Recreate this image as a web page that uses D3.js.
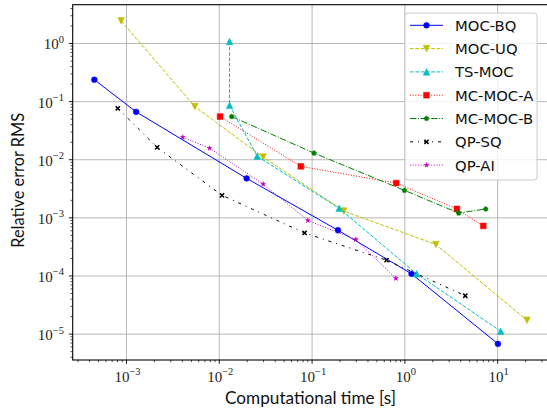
<!DOCTYPE html>
<html>
<head>
<meta charset="utf-8">
<script src="https://cdn.jsdelivr.net/npm/d3@7"></script>
<style>
  html, body { margin: 0; padding: 0; background: #fff; }
  svg { display: block; }
</style>
</head>
<body>
<svg id="chart" width="547" height="415"></svg>
<script>
// ---------------- data ----------------
const seriesNames = ["MOC-BQ", "MOC-UQ", "TS-MOC", "MC-MOC-A", "MC-MOC-B", "QP-SQ", "QP-AI"];

const mocBQ_time  = [4.5e-4, 1.27e-3, 0.0197, 0.19, 1.18, 10.07];
const mocBQ_err   = [0.238, 0.0666, 4.78e-3, 6.12e-4, 1.09e-4, 6.8e-6];

const mocUQ_time  = [8.75e-4, 5.45e-3, 0.0297, 0.22, 2.16, 20.7];
const mocUQ_err   = [2.45, 0.082, 0.0111, 1.31e-3, 3.48e-4, 1.73e-5];

const tsMOC_time  = [0.0129, 0.0129, 0.0256, 0.196, 1.34, 10.8];
const tsMOC_err   = [1.08, 0.0864, 0.0115, 1.46e-3, 1.09e-4, 1.12e-5];

const mcMOCA_time = [0.0102, 0.0757, 0.807, 3.64, 7.0];
const mcMOCA_err  = [0.0553, 7.67e-3, 3.97e-3, 1.42e-3, 7.26e-4];

const mcMOCB_time = [0.0136, 0.105, 0.99, 3.8, 7.43];
const mcMOCB_err  = [0.0553, 0.013, 2.97e-3, 1.21e-3, 1.42e-3];

const qpSQ_time   = [8.05e-4, 2.14e-3, 0.0107, 0.083, 0.635, 4.48];
const qpSQ_err    = [0.0767, 0.0163, 2.44e-3, 5.5e-4, 1.87e-4, 4.57e-5];

const qpAI_time   = [4.04e-3, 7.85e-3, 0.0297, 0.0902, 0.296, 0.80];
const qpAI_err    = [0.0244, 0.0158, 3.81e-3, 8.99e-4, 4.25e-4, 9.1e-5];

const xTickExponents = [-3, -2, -1, 0, 1];
const yTickExponents = [-5, -4, -3, -2, -1, 0];

const xLabel = "Computational time [s]";
const yLabel = "Relative error RMS";

// ---------------- styles ----------------
const times = [mocBQ_time, mocUQ_time, tsMOC_time, mcMOCA_time, mcMOCB_time, qpSQ_time, qpAI_time];
const errs  = [mocBQ_err, mocUQ_err, tsMOC_err, mcMOCA_err, mcMOCB_err, qpSQ_err, qpAI_err];
const styles = [
  { color: "#0000ff", dash: null,        marker: "circle" },
  { color: "#bfbf00", dash: "3.7,1.6",   marker: "tridown" },
  { color: "#00bfbf", dash: "3.7,1.6",   marker: "triup" },
  { color: "#ff0000", dash: "1,1.65",    marker: "square" },
  { color: "#008000", dash: "6.4,1.6,1,1.6", marker: "pentagon" },
  { color: "#000000", dash: "3,5,1,5",   marker: "x" },
  { color: "#bf00bf", dash: "1,1.65",    marker: "star" }
];

const series = seriesNames.map((name, i) => ({
  name,
  style: styles[i],
  points: times[i].map((t, j) => ({ t, e: errs[i][j] }))
}));

// ---------------- layout ----------------
const W = 547, H = 415;
const plot = { left: 72.7, right: 548.6, top: 4.7, bottom: 360 };

const allT = times.flat(), allE = errs.flat();
function logDomain(vals) {
  const lo = Math.log10(d3.min(vals)), hi = Math.log10(d3.max(vals));
  const m = (hi - lo) * 0.05;
  return [Math.pow(10, lo - m), Math.pow(10, hi + m)];
}
const x = d3.scaleLog().domain(logDomain(allT)).range([plot.left, plot.right]);
const y = d3.scaleLog().domain(logDomain(allE)).range([plot.bottom, plot.top]);

const svg = d3.select("#chart");
svg.append("rect").attr("width", W).attr("height", H).attr("fill", "#fff");

const defs = svg.append("defs");
defs.append("clipPath").attr("id", "clip")
  .append("rect")
  .attr("x", plot.left).attr("y", plot.top)
  .attr("width", plot.right - plot.left).attr("height", plot.bottom - plot.top);

// grid
const gGrid = svg.append("g");
xTickExponents.forEach(k => {
  const px = x(Math.pow(10, k));
  gGrid.append("line").attr("x1", px).attr("x2", px).attr("y1", plot.top).attr("y2", plot.bottom)
    .attr("stroke", "#b0b0b0").attr("stroke-width", 0.9);
});
yTickExponents.forEach(k => {
  const py = y(Math.pow(10, k));
  gGrid.append("line").attr("x1", plot.left).attr("x2", plot.right).attr("y1", py).attr("y2", py)
    .attr("stroke", "#b0b0b0").attr("stroke-width", 0.9);
});

// markers
function markerPath(type) {
  const p = d3.path();
  if (type === "circle") {
    const r = 2.9; p.moveTo(r, 0); p.arc(0, 0, r, 0, 2 * Math.PI);
  } else if (type === "tridown") {
    const s = 3.3; p.moveTo(0, s); p.lineTo(-s, -s); p.lineTo(s, -s); p.closePath();
  } else if (type === "triup") {
    const s = 3.3; p.moveTo(0, -s); p.lineTo(-s, s); p.lineTo(s, s); p.closePath();
  } else if (type === "square") {
    const s = 2.9; p.rect(-s, -s, 2 * s, 2 * s);
  } else if (type === "pentagon") {
    const r = 2.6;
    for (let i = 0; i < 5; i++) {
      const a = -Math.PI / 2 + i * 2 * Math.PI / 5;
      if (i === 0) p.moveTo(r * Math.cos(a), r * Math.sin(a)); else p.lineTo(r * Math.cos(a), r * Math.sin(a));
    }
    p.closePath();
  } else if (type === "x") {
    const s = 2.1; p.moveTo(-s, -s); p.lineTo(s, s); p.moveTo(-s, s); p.lineTo(s, -s);
  } else if (type === "star") {
    const ro = 2.5, ri = 1.05;
    for (let i = 0; i < 10; i++) {
      const a = -Math.PI / 2 + i * Math.PI / 5;
      const r = i % 2 === 0 ? ro : ri;
      if (i === 0) p.moveTo(r * Math.cos(a), r * Math.sin(a)); else p.lineTo(r * Math.cos(a), r * Math.sin(a));
    }
    p.closePath();
  }
  return p.toString();
}
function drawMarker(g, type, color, cx, cy) {
  const m = g.append("path").attr("d", markerPath(type)).attr("transform", `translate(${cx},${cy})`);
  if (type === "x") {
    m.attr("fill", "none").attr("stroke", color).attr("stroke-width", 1.5);
  } else {
    m.attr("fill", color).attr("stroke", color).attr("stroke-width", 0.5);
  }
}

// series
const gData = svg.append("g").attr("clip-path", "url(#clip)");
const line = d3.line().x(d => x(d.t)).y(d => y(d.e));
series.forEach(s => {
  const g = gData.append("g");
  g.append("path").datum(s.points).attr("d", line)
    .attr("fill", "none").attr("stroke", s.style.color).attr("stroke-width", 1)
    .attr("stroke-dasharray", s.style.dash);
  s.points.forEach(d => drawMarker(g, s.style.marker, s.style.color, x(d.t), y(d.e)));
});

// frame
svg.append("rect").attr("x", plot.left).attr("y", plot.top)
  .attr("width", plot.right - plot.left).attr("height", plot.bottom - plot.top)
  .attr("fill", "none").attr("stroke", "#000").attr("stroke-width", 1.1);

// ticks
const gTicks = svg.append("g").attr("stroke", "#000");
function minorTicks(scale) {
  const [a, b] = scale.domain();
  const out = [];
  for (let e = Math.floor(Math.log10(a)); e <= Math.ceil(Math.log10(b)); e++) {
    for (let k = 1; k <= 9; k++) {
      const v = k * Math.pow(10, e);
      if (v >= a && v <= b) out.push({ v, major: k === 1 });
    }
  }
  return out;
}
minorTicks(x).forEach(t => {
  const px = x(t.v), len = t.major ? 3.8 : 2.2;
  gTicks.append("line").attr("x1", px).attr("x2", px).attr("y1", plot.bottom).attr("y2", plot.bottom + len)
    .attr("stroke-width", t.major ? 0.9 : 0.7);
});
minorTicks(y).forEach(t => {
  const py = y(t.v), len = t.major ? 3.8 : 2.2;
  gTicks.append("line").attr("x1", plot.left - len).attr("x2", plot.left).attr("y1", py).attr("y2", py)
    .attr("stroke-width", t.major ? 0.9 : 0.7);
});

// tick labels
const tickFont = "'Liberation Serif', 'DejaVu Serif', serif";
function powLabel(g, k, px, py, anchor) {
  const t = g.append("text").attr("x", px).attr("y", py).attr("text-anchor", anchor)
    .attr("font-family", tickFont).attr("font-size", 15).attr("fill", "#222");
  t.append("tspan").text("10");
  t.append("tspan").attr("dy", -6.5).attr("font-size", 10.5).text(k < 0 ? "\u2212" + (-k) : String(k));
  return t;
}
const gLabels = svg.append("g");
xTickExponents.forEach(k => {
  powLabel(gLabels, k, x(Math.pow(10, k)) + 1, 381.5, "middle");
});
yTickExponents.forEach(k => {
  powLabel(gLabels, k, 64, y(Math.pow(10, k)) + 6, "end");
});

// axis labels
const labelFont = "Lato, 'Open Sans', sans-serif";
function fitText(node, target) {
  const len = node.getComputedTextLength();
  const fs = parseFloat(node.getAttribute("font-size"));
  node.setAttribute("font-size", (fs * target / len).toFixed(2));
}
const xl = svg.append("text").attr("x", 310.5).attr("y", 404)
  .attr("text-anchor", "middle").attr("font-family", labelFont).attr("font-size", 17)
  .attr("fill", "#111").text(xLabel);
fitText(xl.node(), 171);

const yl = svg.append("text").attr("transform", `translate(23.5, ${(plot.top + plot.bottom) / 2 - 2}) rotate(-90)`)
  .attr("text-anchor", "middle").attr("font-family", labelFont).attr("font-size", 17)
  .attr("fill", "#111").text(yLabel);
fitText(yl.node(), 135);

// legend
const lg = svg.append("g");
lg.append("rect").attr("x", 405).attr("y", 13).attr("width", 132).attr("height", 167).attr("rx", 3)
  .attr("fill", "#fff").attr("fill-opacity", 0.8).attr("stroke", "#cccccc").attr("stroke-width", 1);
series.forEach((s, i) => {
  const ry = 25.3 + i * 23.3;
  lg.append("line").attr("x1", 410).attr("x2", 443).attr("y1", ry).attr("y2", ry)
    .attr("stroke", s.style.color).attr("stroke-width", 1).attr("stroke-dasharray", s.style.dash);
  drawMarker(lg, s.style.marker, s.style.color, 426.5, ry);
  lg.append("text").attr("x", 455).attr("y", ry + 5.5)
    .attr("font-family", "'DejaVu Sans', sans-serif").attr("font-size", 14.8).attr("fill", "#111")
    .text(s.name);
});
</script>
</body>
</html>
